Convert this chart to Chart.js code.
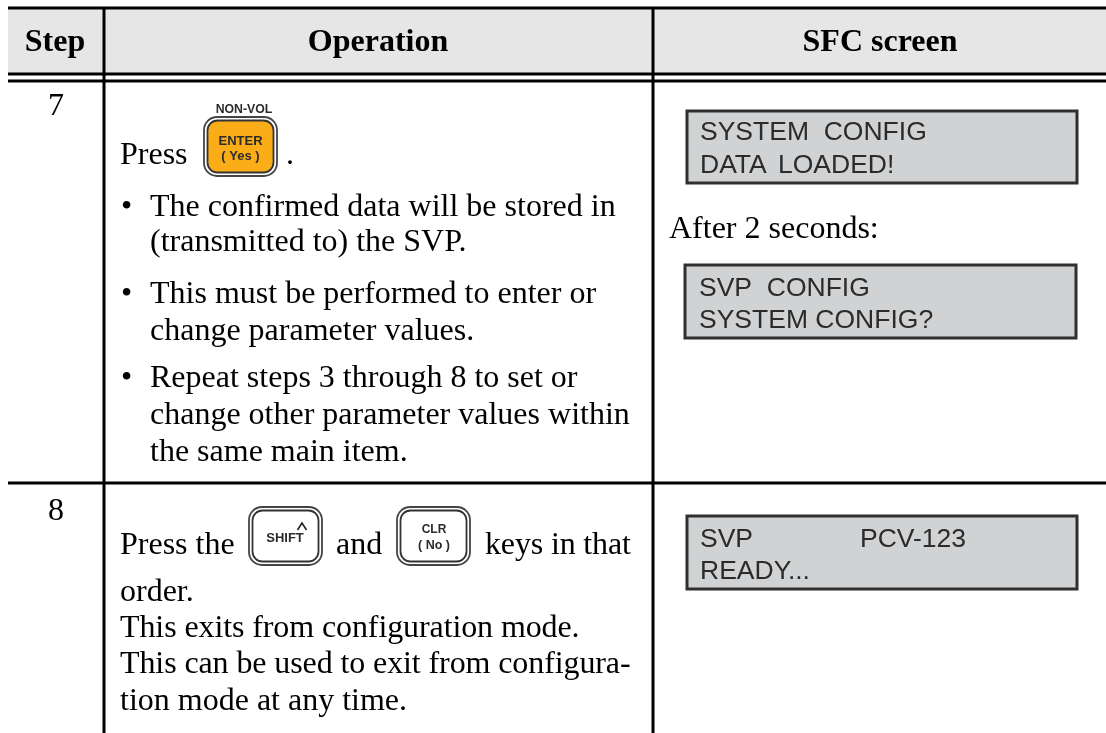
<!DOCTYPE html>
<html>
<head>
<meta charset="utf-8">
<title>SFC steps</title>
<script src="https://cdn.jsdelivr.net/npm/chart.js@4/dist/chart.umd.min.js"></script>
<style>
  html, body { margin: 0; padding: 0; background: #fff; }
  canvas { display: block; }
</style>
</head>
<body>
<canvas id="table" width="1106" height="733"></canvas>
<script>
// table content
const headers = ['Step', 'Operation', 'SFC screen'];
const steps = ['7', '8'];
const operationText = [
  'Press',
  '.',
  '•',
  'The confirmed data will be stored in',
  '(transmitted to) the SVP.',
  '•',
  'This must be performed to enter or',
  'change parameter values.',
  '•',
  'Repeat steps 3 through 8 to set or',
  'change other parameter values within',
  'the same main item.',
  'Press the',
  'and',
  'keys in that',
  'order.',
  'This exits from configuration mode.',
  'This can be used to exit from configura-',
  'tion mode at any time.'
];
const afterText = ['After 2 seconds:'];
const screenText = [
  'SYSTEM  CONFIG',
  'DATA',
  'LOADED!',
  'SVP  CONFIG',
  'SYSTEM CONFIG?',
  'SVP',
  'PCV-123',
  'READY...'
];
const keyCaptions = ['NON-VOL', 'ENTER', '( Yes )', 'SHIFT', 'CLR', '( No )'];

// layout, in page units (axes run 0..1106 and 733..0)
const headerX = [55, 378, 880];
const headerY = 51;
const stepX = 56;
const stepY = [115, 520];
const operationX = [120, 286, 121, 150, 150, 121, 150, 150, 121, 150, 150, 150, 120, 336, 485, 120, 120, 120, 120];
const operationY = [164, 164, 216, 216, 251, 303, 303, 340, 387, 387, 424, 461, 554, 554, 554, 601, 637, 673, 710];
const operationSpacing = [0, 0, 0, 0, 0, 0, 0, 0, 0, 0, 0, 0, 0, 0, -0.15, 0, -0.1, -0.1, 0];
const afterX = 669;
const afterY = 238;
const screenX = [700, 700, 778, 699, 699, 700, 860, 700];
const screenY = [140, 173, 173, 296, 328, 547, 547, 579];
const captionX = [244, 240.5, 240.5, 285, 434, 434];
const captionY = [113, 145, 160, 542, 533, 549];
const captionSize = [12.3, 13, 13, 13, 12, 12.5];

const ruleH = [[8, 8, 1106], [74, 8, 1106], [81, 8, 1106], [483, 8, 1106]];
const ruleV = [[104, 8, 733], [653, 8, 733]];
const headerBand = [8, 8, 1106, 74];
const lcdBoxes = [[687, 111, 1077, 183], [685, 265, 1076, 338], [687, 516, 1077, 589]];
const keyBoxes = [[204, 117, 277, 176], [249, 507, 322, 565], [397, 507, 470, 565]];
const caretX = [297.5, 302, 306.5];
const caretY = [530, 523, 530];

const rules = [
  ...ruleH.map(([y, a, b]) => [{ x: a, y }, { x: b, y }]),
  ...ruleV.map(([x, a, b]) => [{ x, y: a }, { x, y: b }])
];

const tablePlugin = {
  id: 'tablePlugin',
  beforeDatasetsDraw(chart) {
    const { ctx, scales: { x, y } } = chart;
    const px = v => x.getPixelForValue(v);
    const py = v => y.getPixelForValue(v);
    const rect = (b, fill, stroke, lw, r) => {
      ctx.beginPath();
      ctx.roundRect(px(b[0]), py(b[1]), px(b[2]) - px(b[0]), py(b[3]) - py(b[1]), r);
      if (fill) { ctx.fillStyle = fill; ctx.fill(); }
      if (stroke) { ctx.strokeStyle = stroke; ctx.lineWidth = lw; ctx.stroke(); }
    };
    ctx.save();
    rect(headerBand, '#e6e6e6');
    lcdBoxes.forEach(b => rect(b, '#d0d2d3', '#2f2f2f', 3, 0));
    keyBoxes.forEach((b, i) => {
      rect(b, '#fff', '#444', 1.8, 13);
      rect([b[0] + 3.5, b[1] + 3.5, b[2] - 3.5, b[3] - 3.5], i === 0 ? '#fbad18' : '#fff', '#333', 1.8, 10);
    });
    // caret on the SHIFT key
    ctx.beginPath();
    caretX.forEach((v, i) => ctx.lineTo(px(v), py(caretY[i])));
    ctx.strokeStyle = '#222';
    ctx.lineWidth = 1.6;
    ctx.stroke();

    ctx.textBaseline = 'alphabetic';
    ctx.fillStyle = '#000';
    ctx.textAlign = 'center';
    ctx.font = 'bold 32px "Liberation Serif"';
    headers.forEach((t, i) => ctx.fillText(t, px(headerX[i]), py(headerY)));
    ctx.font = '32px "Liberation Serif"';
    steps.forEach((t, i) => ctx.fillText(t, px(stepX), py(stepY[i])));
    ctx.textAlign = 'left';
    operationText.forEach((t, i) => {
      ctx.letterSpacing = operationSpacing[i] + 'px';
      ctx.fillText(t, px(operationX[i]), py(operationY[i]));
    });
    ctx.letterSpacing = '0px';
    afterText.forEach(t => ctx.fillText(t, px(afterX), py(afterY)));
    ctx.fillStyle = '#2b2b2b';
    ctx.font = '26.5px "Liberation Sans"';
    screenText.forEach((t, i) => ctx.fillText(t, px(screenX[i]), py(screenY[i])));
    ctx.textAlign = 'center';
    keyCaptions.forEach((t, i) => {
      ctx.font = 'bold ' + captionSize[i] + 'px "Liberation Sans"';
      ctx.fillText(t, px(captionX[i]), py(captionY[i]));
    });
    ctx.restore();
  }
};

new Chart(document.getElementById('table'), {
  type: 'scatter',
  data: {
    datasets: rules.map(data => ({
      data,
      showLine: true,
      borderColor: '#000',
      borderWidth: 3,
      pointRadius: 0
    }))
  },
  options: {
    responsive: false,
    animation: false,
    layout: { padding: 0 },
    plugins: { legend: { display: false }, tooltip: { enabled: false } },
    scales: {
      x: { type: 'linear', min: 0, max: 1106, display: false },
      y: { type: 'linear', min: 0, max: 733, reverse: true, display: false }
    }
  },
  plugins: [tablePlugin]
});
</script>
</body>
</html>
